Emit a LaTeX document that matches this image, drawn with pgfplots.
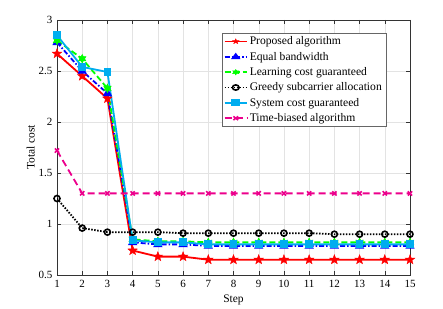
\documentclass[border=0pt]{standalone}
\usepackage{fontspec}
\setmainfont{Liberation Serif}
\usepackage{pgfplots}
\pgfplotsset{compat=1.18}
\usetikzlibrary{plotmarks}
\pgfdeclareplotmark{fstar}{%
  \pgfpathmoveto{\pgfpointpolar{90}{\pgfplotmarksize}}%
  \pgfpathlineto{\pgfpointpolar{126}{0.42\pgfplotmarksize}}%
  \pgfpathlineto{\pgfpointpolar{162}{\pgfplotmarksize}}%
  \pgfpathlineto{\pgfpointpolar{198}{0.42\pgfplotmarksize}}%
  \pgfpathlineto{\pgfpointpolar{234}{\pgfplotmarksize}}%
  \pgfpathlineto{\pgfpointpolar{270}{0.42\pgfplotmarksize}}%
  \pgfpathlineto{\pgfpointpolar{306}{\pgfplotmarksize}}%
  \pgfpathlineto{\pgfpointpolar{342}{0.42\pgfplotmarksize}}%
  \pgfpathlineto{\pgfpointpolar{18}{\pgfplotmarksize}}%
  \pgfpathlineto{\pgfpointpolar{54}{0.42\pgfplotmarksize}}%
  \pgfpathclose\pgfusepathqfillstroke}
\pgfdeclareplotmark{hstar}{%
  \pgfpathmoveto{\pgfpointpolar{90}{\pgfplotmarksize}}%
  \pgfpathlineto{\pgfpointpolar{120}{0.55\pgfplotmarksize}}%
  \pgfpathlineto{\pgfpointpolar{150}{\pgfplotmarksize}}%
  \pgfpathlineto{\pgfpointpolar{180}{0.55\pgfplotmarksize}}%
  \pgfpathlineto{\pgfpointpolar{210}{\pgfplotmarksize}}%
  \pgfpathlineto{\pgfpointpolar{240}{0.55\pgfplotmarksize}}%
  \pgfpathlineto{\pgfpointpolar{270}{\pgfplotmarksize}}%
  \pgfpathlineto{\pgfpointpolar{300}{0.55\pgfplotmarksize}}%
  \pgfpathlineto{\pgfpointpolar{330}{\pgfplotmarksize}}%
  \pgfpathlineto{\pgfpointpolar{0}{0.55\pgfplotmarksize}}%
  \pgfpathlineto{\pgfpointpolar{30}{\pgfplotmarksize}}%
  \pgfpathlineto{\pgfpointpolar{60}{0.55\pgfplotmarksize}}%
  \pgfpathclose\pgfusepathqfillstroke}
\begin{document}
\begin{tikzpicture}
\begin{axis}[
  scale only axis, width=353pt, height=255pt,
  xmin=1, xmax=15, ymin=0.5, ymax=3,
  xtick={1,...,15}, ytick={0.5,1,1.5,2,2.5,3},
  yticklabels={0.5,1,1.5,2,2.5,3},
  grid=major, major grid style={gray!22},
  tick align=inside, xtick pos=both, ytick pos=both,
  major tick length=4pt,
  tick style={black!80, line width=0.4pt},
  axis line style={black!80, line width=0.5pt},
  /pgf/number format/assume math mode=true,
  tick label style={font=\rmfamily\fontsize{11}{12}\selectfont},
  xticklabel style={yshift=-2pt},
  yticklabel style={xshift=-1pt},
  label style={font=\rmfamily\fontsize{11.5}{13}\selectfont},
  xlabel={Step}, ylabel={Total cost},
  xlabel style={yshift=0pt}, ylabel style={yshift=-3pt},
  legend style={at={(0.932,0.949)}, anchor=north east, font=\rmfamily\fontsize{11.6}{12.5}\selectfont,
    draw=black!60, fill=white, inner xsep=2pt, inner ysep=1.5pt, row sep=1.8pt},
  legend image post style={xscale=1.3, mark size=2.6pt},
  legend cell align=left,
]
\addplot[red, line width=1.8pt, mark=fstar, mark size=5pt, mark options={solid, fill=red, line width=0.4pt}] coordinates {
(1,2.67)(2,2.45)(3,2.23)(4,0.74)(5,0.68)(6,0.68)(7,0.65)(8,0.65)(9,0.65)(10,0.65)(11,0.65)(12,0.65)(13,0.65)(14,0.65)(15,0.65)};
\addlegendentry{Proposed algorithm}
\addplot[blue, line width=1.8pt, dash pattern=on 5pt off 2pt on 1.5pt off 2pt, mark=triangle*, mark size=3.6pt, mark options={solid}] coordinates {
(1,2.78)(2,2.50)(3,2.28)(4,0.82)(5,0.80)(6,0.80)(7,0.785)(8,0.785)(9,0.785)(10,0.785)(11,0.785)(12,0.785)(13,0.785)(14,0.785)(15,0.785)};
\addlegendentry{Equal bandwidth}
\addplot[green, line width=1.8pt, dash pattern=on 6pt off 3pt, mark=hstar, mark size=4.2pt, mark options={solid, fill=green, line width=0.6pt}] coordinates {
(1,2.80)(2,2.62)(3,2.33)(4,0.85)(5,0.83)(6,0.83)(7,0.82)(8,0.82)(9,0.82)(10,0.82)(11,0.82)(12,0.82)(13,0.82)(14,0.82)(15,0.82)};
\addlegendentry{Learning cost guaranteed}
\addplot[black, line width=1.8pt, dash pattern=on 1.5pt off 1.5pt, mark=o, mark size=3pt, mark options={solid, line width=1.6pt}] coordinates {
(1,1.25)(2,0.96)(3,0.92)(4,0.92)(5,0.92)(6,0.91)(7,0.91)(8,0.91)(9,0.91)(10,0.91)(11,0.91)(12,0.90)(13,0.90)(14,0.90)(15,0.90)};
\addlegendentry{Greedy subcarrier allocation}
\addplot[cyan, line width=1.8pt, mark=square*, mark size=3pt, mark options={solid}] coordinates {
(1,2.85)(2,2.54)(3,2.49)(4,0.84)(5,0.82)(6,0.82)(7,0.80)(8,0.80)(9,0.80)(10,0.80)(11,0.80)(12,0.80)(13,0.80)(14,0.80)(15,0.80)};
\addlegendentry{System cost guaranteed}
\addplot[magenta, line width=1.8pt, dash pattern=on 7pt off 4pt, mark=x, mark size=3pt, mark options={solid, line width=1.6pt}] coordinates {
(1,1.72)(2,1.30)(3,1.30)(4,1.30)(5,1.30)(6,1.30)(7,1.30)(8,1.30)(9,1.30)(10,1.30)(11,1.30)(12,1.30)(13,1.30)(14,1.30)(15,1.30)};
\addlegendentry{Time-biased algorithm}
\end{axis}
\useasboundingbox (current axis.south west) ++(-57pt,-34pt) rectangle ([shift={(33pt,20pt)}]current axis.north east);
\end{tikzpicture}
\end{document}
